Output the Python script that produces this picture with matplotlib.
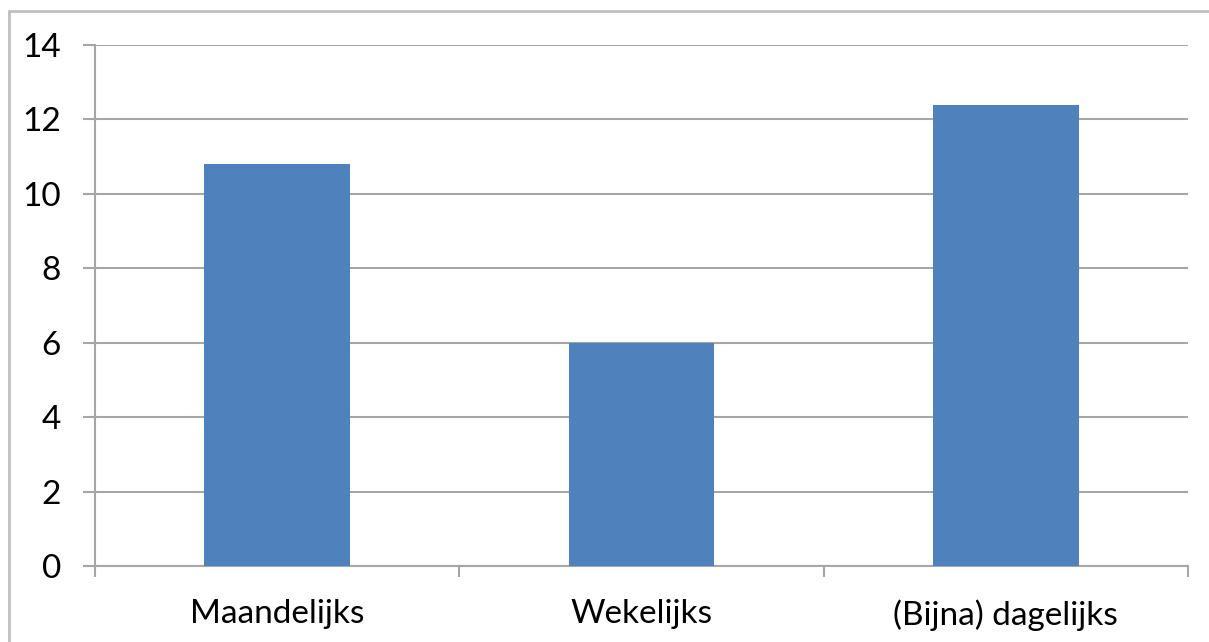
import matplotlib
matplotlib.use("Agg")
import matplotlib.pyplot as plt
import numpy as np
from matplotlib.patches import Rectangle

CATEGORIES = ["Maandelijks", "Wekelijks", "(Bijna) dagelijks"]
VALUES = [10.8, 6.0, 12.4]
Y_TICKS = [0, 2, 4, 6, 8, 10, 12, 14]

BAR_COLOR = "#4F81BD"
GRID_COLOR = "#A6A6A6"

plt.rcParams["font.family"] = ["Lato", "DejaVu Sans"]

W, H = 1209, 642
fig = plt.figure(figsize=(W / 100, H / 100), dpi=100)
ax = fig.add_axes([95 / W, 1 - 566 / H, (1188 - 95) / W, (566 - 45) / H])

x = np.arange(len(CATEGORIES))
ax.bar(x, VALUES, width=0.4, color=BAR_COLOR, zorder=3)

ax.set_xlim(-0.5, len(CATEGORIES) - 0.5)
ax.set_ylim(0, 14)
ax.set_yticks(Y_TICKS)
ax.set_yticklabels([str(t) for t in Y_TICKS], fontsize=24)
ax.yaxis.grid(True, color=GRID_COLOR, linewidth=1.5, zorder=0)

ax.set_xticks(x)
ax.set_xticklabels(CATEGORIES, fontsize=24)
ax.tick_params(axis="x", length=0, pad=24)
ax.set_xticks(np.arange(len(CATEGORIES) + 1) - 0.5, minor=True)
ax.tick_params(axis="x", which="minor", length=8, width=1.5, color=GRID_COLOR)
ax.tick_params(axis="y", length=8.6, width=1.5, color=GRID_COLOR, pad=16)

for side in ("top", "right"):
    ax.spines[side].set_visible(False)
for side in ("left", "bottom"):
    ax.spines[side].set_color(GRID_COLOR)
    ax.spines[side].set_linewidth(1.5)

# outer chart border, partly cropped off like the original
fig.patches.append(Rectangle((9 / W, -0.1), 1.2, 1 - 11 / H + 0.1,
                             transform=fig.transFigure, fill=False,
                             edgecolor="#BFBFBF", linewidth=2))

fig.savefig("out.png", dpi=100)
